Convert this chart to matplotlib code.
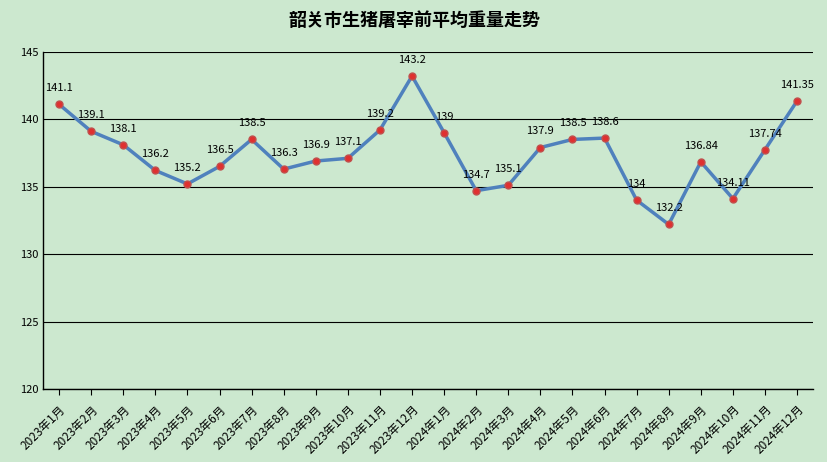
import numpy as np
import matplotlib.pyplot as plt
from matplotlib import font_manager

names = {f.name for f in font_manager.fontManager.ttflist}
cjk = [n for n in ['Noto Sans CJK SC', 'Noto Sans CJK JP', 'Noto Sans CJK TC', 'Noto Sans CJK KR']
       if n in names]
plt.rcParams['font.family'] = 'sans-serif'
plt.rcParams['font.sans-serif'] = cjk + ['DejaVu Sans']

months = ['2023年%d月' % m for m in range(1, 13)] + ['2024年%d月' % m for m in range(1, 13)]
weights = [141.1, 139.1, 138.1, 136.2, 135.2, 136.5, 138.5, 136.3, 136.9, 137.1, 139.2, 143.2,
           139, 134.7, 135.1, 137.9, 138.5, 138.6, 134, 132.2, 136.84, 134.11, 137.74, 141.35]
labels = ['141.1', '139.1', '138.1', '136.2', '135.2', '136.5', '138.5', '136.3', '136.9', '137.1',
          '139.2', '143.2', '139', '134.7', '135.1', '137.9', '138.5', '138.6', '134', '132.2',
          '136.84', '134.11', '137.74', '141.35']

bg = '#cce8cf'
fig = plt.figure(figsize=(8.28, 4.62), dpi=100, facecolor=bg)
ax = fig.add_axes([0.052, 0.158, 0.93, 0.73], facecolor=bg)

x = np.arange(len(months))
ax.plot(x, weights, color='#4f81bd', lw=2.5, marker='o', ms=5,
        markerfacecolor='#e03030', markeredgecolor='#c0504d', zorder=3)
for xi, v, t in zip(x, weights, labels):
    ax.annotate(t, (xi, v), xytext=(0, 8), textcoords='offset points',
                ha='center', va='bottom', fontsize=8)

ax.set_ylim(120, 145)
ax.set_yticks(range(120, 146, 5))
ax.set_xlim(-0.5, len(months) - 0.5)
ax.set_xticks(x)
ax.set_xticklabels(months, rotation=45, ha='right', rotation_mode='anchor', fontsize=8.5)
ax.tick_params(axis='y', length=0, labelsize=8)
ax.tick_params(axis='x', length=4, pad=6)
ax.grid(axis='y', color='black', lw=0.8)
for s in ['top', 'right']:
    ax.spines[s].set_visible(False)
ax.spines['left'].set_linewidth(1)
ax.spines['bottom'].set_linewidth(1)

fig.text(0.5, 0.955, '韶关市生猪屠宰前平均重量走势', ha='center', va='center',
         fontsize=13, fontweight='bold')

fig.savefig('out.png', dpi=100, facecolor=bg)
